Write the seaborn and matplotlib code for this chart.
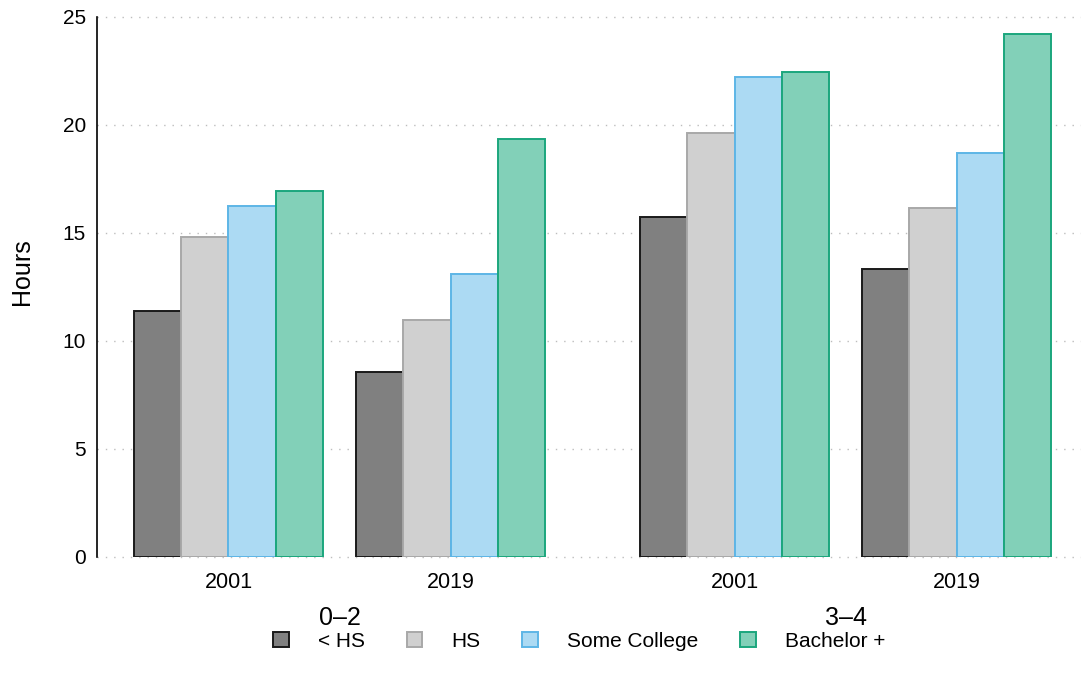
import matplotlib
matplotlib.use("Agg")
import matplotlib.pyplot as plt
from matplotlib.patches import Patch
import pandas as pd
import seaborn as sns

# data (hours)
ages = ["0–2", "3–4"]
years = ["2001", "2019"]
levels = ["< HS", "HS", "Some College", "Bachelor +"]
# order: (0-2, 2001), (0-2, 2019), (3-4, 2001), (3-4, 2019)
lt_hs = [11.40, 8.58, 15.72, 13.32]
hs = [14.81, 10.99, 19.64, 16.17]
some_college = [16.25, 13.09, 22.24, 18.72]
bachelor = [16.94, 19.37, 22.47, 24.20]

fills = ["#808080", "#d0d0d0", "#acdaf3", "#82d0b8"]
edges = ["#1a1a1a", "#a8a8a8", "#5db5e6", "#1ba67d"]

age_gap = 0.28  # extra space between age groups

rows = []
for vals, lev in zip([lt_hs, hs, some_college, bachelor], levels):
    for i, v in enumerate(vals):
        a, y = divmod(i, 2)
        rows.append({"pos": y + a * (2 + age_gap), "age": ages[a],
                     "year": years[y], "edu": lev, "hours": v})
df = pd.DataFrame(rows)

sns.set_style("white")
plt.rcParams["font.family"] = ["Liberation Sans", "DejaVu Sans"]
plt.rcParams["text.color"] = "black"
plt.rcParams["axes.labelcolor"] = "black"
plt.rcParams["xtick.color"] = "black"
plt.rcParams["ytick.color"] = "black"

fig = plt.figure(figsize=(10.81, 6.87), dpi=100)
ax = fig.add_axes([97 / 1081, 1 - 557 / 687, 984 / 1081, 540 / 687])

sns.barplot(data=df, x="pos", y="hours", hue="edu", hue_order=levels,
            native_scale=True, width=0.85, palette=fills, saturation=1,
            linewidth=1.4, errorbar=None, legend=False, ax=ax)
for cont, ec in zip(ax.containers, edges):
    for bar in cont:
        bar.set_edgecolor(ec)

pos = sorted(df["pos"].unique())
ax.set_xticks(pos, years * len(ages))
ax.set_xlim(-0.5923, 3.84)
ax.set_ylim(0, 25)
ax.set_yticks([0, 5, 10, 15, 20, 25])
ax.set_xlabel("")
ax.set_ylabel("Hours", fontsize=18)
ax.yaxis.set_label_coords(-0.064, 0.528)

ax.yaxis.grid(True, linestyle=(0, (1, 5)), color="#bdbdbd", linewidth=1.0)
ax.set_axisbelow(True)
for line in ax.get_ygridlines():
    line.set_clip_on(False)
for s in ["top", "right", "bottom"]:
    ax.spines[s].set_visible(False)
ax.spines["left"].set_color("black")
ax.spines["left"].set_linewidth(1.2)
ax.tick_params(axis="y", length=5, width=1, color="#999999", labelcolor="black",
               labelsize=15, pad=3)
ax.tick_params(axis="x", length=0, labelsize=15.5, labelcolor="black", pad=11)

# age group labels under the year labels
trans = ax.get_xaxis_transform()
for a, age in enumerate(ages):
    ax.text((pos[2 * a] + pos[2 * a + 1]) / 2, -0.113, age, transform=trans,
            ha="center", va="center", fontsize=18)

handles = [Patch(facecolor=f, edgecolor=e, linewidth=1.4) for f, e in zip(fills, edges)]
ax.legend(handles, levels, loc="center", bbox_to_anchor=(0.49, -0.156), ncol=4,
          frameon=False, fontsize=15, handlelength=0.75, handleheight=0.75,
          handletextpad=1.4, columnspacing=2.0)

fig.savefig("out.png", dpi=100)
